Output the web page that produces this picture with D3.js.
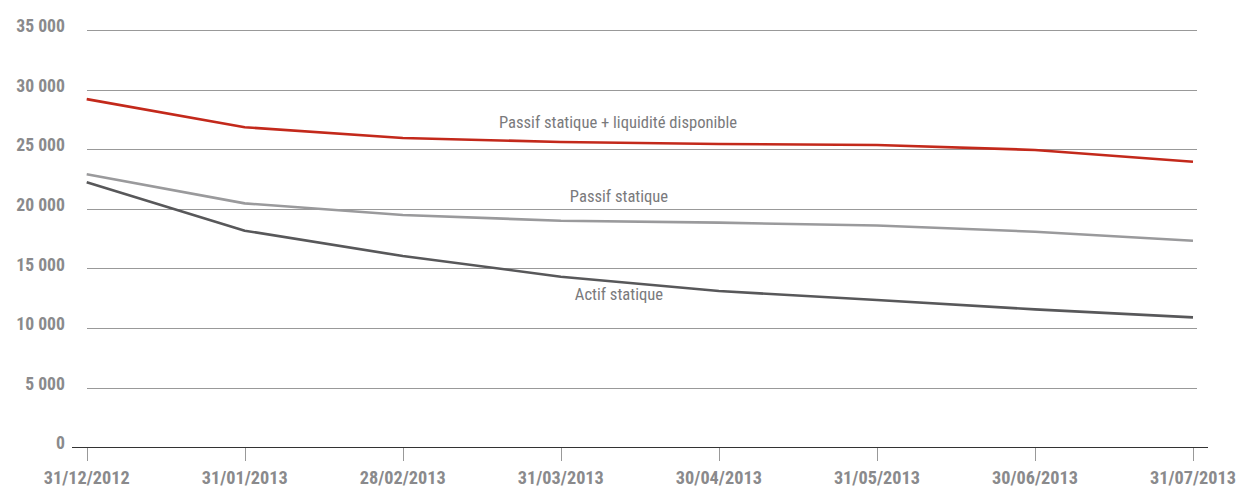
<!DOCTYPE html>
<html>
<head>
<meta charset="utf-8">
<script src="https://cdn.jsdelivr.net/npm/d3@7"></script>
<style>
  body { margin: 0; background: #fff; }
  text { font-family: "Liberation Sans Narrow", "Roboto Condensed", "Liberation Sans", sans-serif; }
</style>
</head>
<body>
<svg width="1237" height="487"></svg>
<script>
const dates = ["31/12/2012", "31/01/2013", "28/02/2013", "31/03/2013", "30/04/2013", "31/05/2013", "30/06/2013", "31/07/2013"];
const passifLiquidite = [29200, 26840, 25940, 25610, 25440, 25360, 24940, 23950];
const passifStatique = [22900, 20460, 19480, 19000, 18840, 18600, 18080, 17330];
const actifStatique = [22230, 18170, 16040, 14310, 13110, 12350, 11570, 10900];
const yTicks = [0, 5000, 10000, 15000, 20000, 25000, 30000, 35000];

const series = [
  { name: "Passif statique + liquidité disponible", values: passifLiquidite, color: "#c3291b", lx: 618, ly: 122 },
  { name: "Passif statique", values: passifStatique, color: "#9a9a9c", lx: 619, ly: 196 },
  { name: "Actif statique", values: actifStatique, color: "#58585a", lx: 619, ly: 294 }
];

const svg = d3.select("svg");

const x = d3.scalePoint().domain(dates).range([86.7, 1193]);
const y = d3.scaleLinear().domain([0, 35000]).range([447.3, 30]);

const fmt = d3.formatLocale({ decimal: ",", thousands: " ", grouping: [3], currency: ["", ""] }).format(",");

// gridlines
svg.append("g")
  .selectAll("line")
  .data(yTicks.filter(d => d > 0))
  .join("line")
  .attr("x1", 87).attr("x2", 1197)
  .attr("y1", d => Math.round(y(d)) + 0.5).attr("y2", d => Math.round(y(d)) + 0.5)
  .attr("stroke", "#999")
  .attr("stroke-width", 1);

// y labels
svg.append("g")
  .selectAll("text")
  .data(yTicks)
  .join("text")
  .attr("x", 65)
  .attr("y", d => y(d) - 4)
  .attr("dy", "0.35em")
  .attr("text-anchor", "end")
  .attr("font-size", 17.7)
  .attr("font-weight", "bold")
  .attr("fill", "#8a8a8c")
  .text(d => fmt(d));

// x axis
svg.append("line")
  .attr("x1", 72).attr("x2", 1208)
  .attr("y1", 447.5).attr("y2", 447.5)
  .attr("stroke", "#333")
  .attr("stroke-width", 1.2);

svg.append("g")
  .selectAll("line")
  .data(dates)
  .join("line")
  .attr("x1", d => Math.round(x(d)) + 0.5).attr("x2", d => Math.round(x(d)) + 0.5)
  .attr("y1", 448).attr("y2", 461)
  .attr("stroke", "#999");

svg.append("g")
  .selectAll("text")
  .data(dates)
  .join("text")
  .attr("x", d => x(d))
  .attr("y", 478)
  .attr("dy", "0.35em")
  .attr("text-anchor", "middle")
  .attr("font-size", 18.3)
  .attr("font-weight", "bold")
  .attr("fill", "#8a8a8c")
  .text(d => d);

// lines
const line = d3.line()
  .x((d, i) => x(dates[i]))
  .y(d => y(d));

svg.append("g")
  .selectAll("path")
  .data(series)
  .join("path")
  .attr("d", d => line(d.values))
  .attr("fill", "none")
  .attr("stroke", d => d.color)
  .attr("stroke-width", 2.6)
  .attr("stroke-linejoin", "round");

svg.append("g")
  .selectAll("text")
  .data(series)
  .join("text")
  .attr("x", d => d.lx)
  .attr("y", d => d.ly)
  .attr("dy", "0.35em")
  .attr("text-anchor", "middle")
  .attr("font-size", 16.6)
  .attr("fill", "#7a7a7c")
  .text(d => d.name);
</script>
</body>
</html>
